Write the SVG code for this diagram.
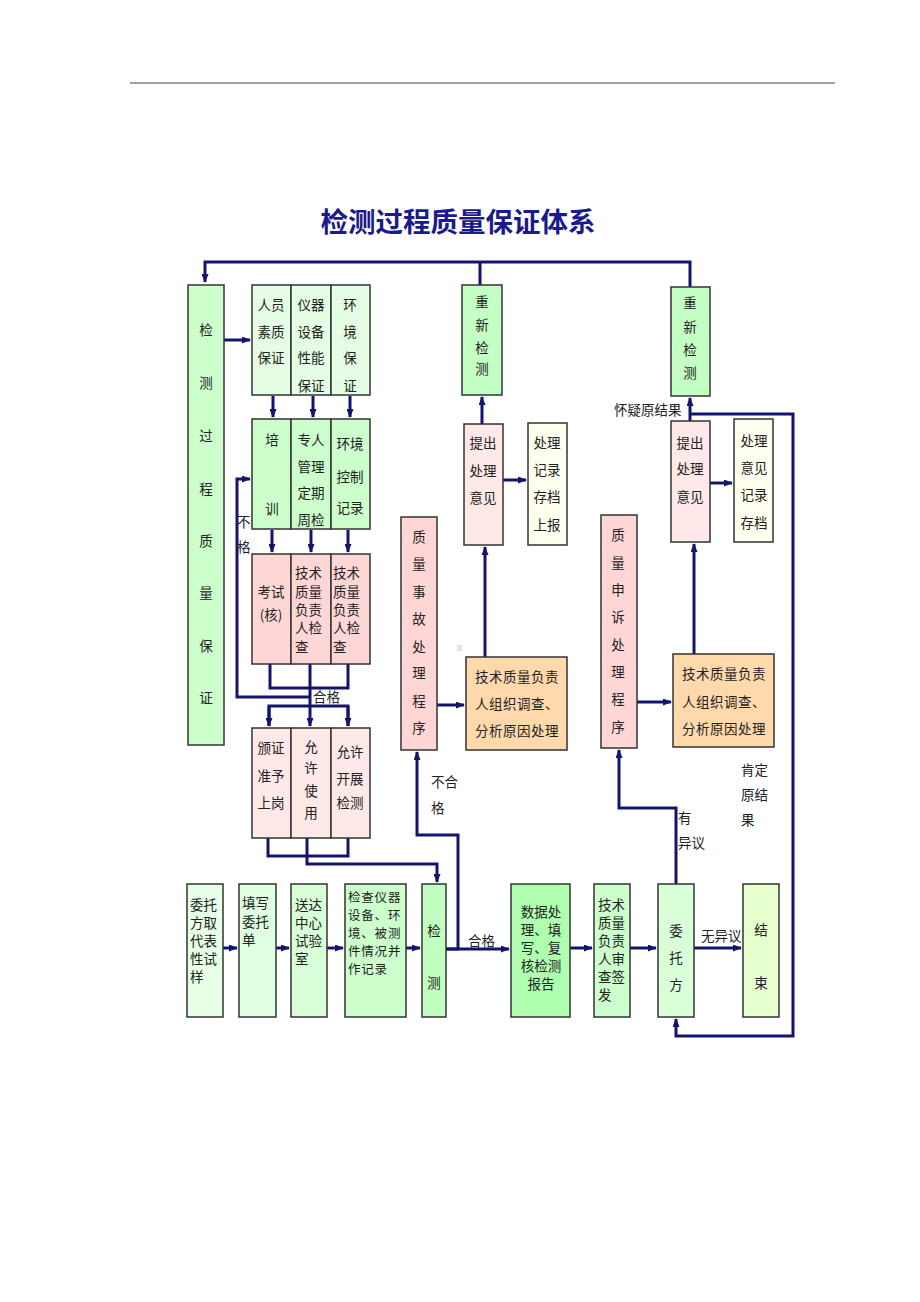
<svg xmlns="http://www.w3.org/2000/svg" width="920" height="1302" viewBox="0 0 920 1302">
<defs>
<marker id="ah" markerUnits="userSpaceOnUse" markerWidth="9" markerHeight="7" refX="8" refY="3.5" orient="auto">
<path d="M0,0 L9,3.5 L0,7 z" fill="#14146e"/>
</marker>
<style>
.t{font-family:"Noto Sans CJK SC","Noto Sans",sans-serif;font-size:13.5px;fill:#222}
.s{font-size:12.5px}
.c{text-anchor:middle}
.b{stroke:#333;stroke-width:1.5}
.ln{fill:none;stroke:#14146e;stroke-width:3}
.ar{fill:none;stroke:#14146e;stroke-width:3;marker-end:url(#ah)}
.title{font-family:"Noto Sans CJK SC","Noto Sans",sans-serif;font-size:27.5px;font-weight:bold;fill:#1a1a8c;text-anchor:middle}
</style>
</defs>
<rect width="920" height="1302" fill="#fff"/>
<line x1="130" y1="83" x2="835" y2="83" stroke="#444" stroke-width="1"/>
<text class="title" x="458" y="232">检测过程质量保证体系</text>

<g id="connectors">
<path class="ar" d="M690,287 V262 H205 V282"/>
<path class="ln" d="M480,262 V285"/>
<path class="ar" d="M224,340 H250"/>
<path class="ar" d="M273,396 V417"/>
<path class="ar" d="M313,396 V417"/>
<path class="ar" d="M350,396 V417"/>
<path class="ar" d="M272,530 V552"/>
<path class="ar" d="M311,530 V552"/>
<path class="ar" d="M348,530 V552"/>
<path class="ln" d="M270,664 V688 H348 V664"/>
<path class="ar" d="M310,664 V726"/>
<path class="ln" d="M269,726 V706 H348 V726"/>
<path class="ar" d="M269,706 V726"/>
<path class="ar" d="M348,706 V726"/>
<path class="ar" d="M310,697 H237 V479 H250"/>
<path class="ln" d="M268,838 V856 H348 V838"/>
<path class="ar" d="M307,838 V864 H437 V882"/>
<path class="ar" d="M446,949 H458 V835 H417 V752"/>
<path class="ar" d="M223,948 H237"/>
<path class="ar" d="M276,948 H289"/>
<path class="ar" d="M327,948 H343"/>
<path class="ar" d="M406,948 H420"/>
<path class="ar" d="M446,949 H509"/>
<path class="ar" d="M570,948 H592"/>
<path class="ar" d="M630,948 H656"/>
<path class="ar" d="M694,948 H741"/>
<path class="ar" d="M676,884 V808 H619 V750"/>
<path class="ar" d="M690,414 H793 V1036 H676 V1019"/>
<path class="ar" d="M690,421 V398"/>
<path class="ar" d="M482,424 V397"/>
<path class="ar" d="M503,480 H526"/>
<path class="ar" d="M710,483 H732"/>
<path class="ar" d="M485,657 V547"/>
<path class="ar" d="M694,654 V544"/>
<path class="ar" d="M437,705 H464"/>
<path class="ar" d="M637,702 H671"/>
</g>

<g id="labels">
<text class="t" x="313" y="702">合格</text>
<text class="t" x="237" y="527">不合</text>
<text class="t" x="237" y="552">格</text>
<text class="t" x="431" y="787">不合</text>
<text class="t" x="431" y="813">格</text>
<text class="t" x="468" y="946">合格</text>
<text class="t" x="701" y="941">无异议</text>
<text class="t" x="614" y="415">怀疑原结果</text>
<text class="t" x="678" y="823">有</text>
<text class="t" x="678" y="848">异议</text>
<text class="t" x="741" y="775">肯定</text>
<text class="t" x="741" y="800">原结</text>
<text class="t" x="741" y="825">果</text>
<rect x="457" y="645" width="5" height="6" fill="#e2e2e2"/>
</g>

<g id="n-main">
<rect class="b" x="188" y="285" width="36" height="460" fill="#ccffcc"/>
<text class="t c" x="206" y="335">检</text>
<text class="t c" x="206" y="388">测</text>
<text class="t c" x="206" y="441">过</text>
<text class="t c" x="206" y="494">程</text>
<text class="t c" x="206" y="546">质</text>
<text class="t c" x="206" y="598">量</text>
<text class="t c" x="206" y="651">保</text>
<text class="t c" x="206" y="703">证</text>
</g>

<g id="n-g1a">
<rect class="b" x="252" y="285" width="39" height="110" fill="#e4fde4"/>
<text class="t c" x="271" y="310">人员</text>
<text class="t c" x="271" y="337">素质</text>
<text class="t c" x="271" y="363">保证</text>
</g>
<g id="n-g1b">
<rect class="b" x="291" y="285" width="40" height="110" fill="#e4fde4"/>
<text class="t c" x="311" y="310">仪器</text>
<text class="t c" x="311" y="337">设备</text>
<text class="t c" x="311" y="363">性能</text>
<text class="t c" x="311" y="391">保证</text>
</g>
<g id="n-g1c">
<rect class="b" x="331" y="285" width="39" height="110" fill="#e4fde4"/>
<text class="t c" x="350" y="310">环</text>
<text class="t c" x="350" y="337">境</text>
<text class="t c" x="350" y="363">保</text>
<text class="t c" x="350" y="391">证</text>
</g>

<g id="n-g2a">
<rect class="b" x="252" y="419" width="39" height="110" fill="#ccffcc"/>
<text class="t c" x="272" y="445">培</text>
<text class="t c" x="272" y="514">训</text>
</g>
<g id="n-g2b">
<rect class="b" x="291" y="419" width="40" height="110" fill="#ccffcc"/>
<text class="t c" x="311" y="445">专人</text>
<text class="t c" x="311" y="472">管理</text>
<text class="t c" x="311" y="498">定期</text>
<text class="t c" x="311" y="525">周检</text>
</g>
<g id="n-g2c">
<rect class="b" x="331" y="419" width="39" height="110" fill="#ccffcc"/>
<text class="t c" x="350" y="449">环境</text>
<text class="t c" x="350" y="482">控制</text>
<text class="t c" x="350" y="513">记录</text>
</g>

<g id="n-g3a">
<rect class="b" x="252" y="554" width="39" height="110" fill="#ffd6d6"/>
<text class="t c" x="271" y="597">考试</text>
<text class="t c" x="271" y="620">(核)</text>
</g>
<g id="n-g3b">
<rect class="b" x="291" y="554" width="40" height="110" fill="#ffd6d6"/>
<text class="t" x="295" y="578">技术</text>
<text class="t" x="295" y="597">质量</text>
<text class="t" x="295" y="615">负责</text>
<text class="t" x="295" y="633">人检</text>
<text class="t" x="295" y="652">查</text>
</g>
<g id="n-g3c">
<rect class="b" x="331" y="554" width="39" height="110" fill="#ffd6d6"/>
<text class="t" x="333" y="578">技术</text>
<text class="t" x="333" y="597">质量</text>
<text class="t" x="333" y="615">负责</text>
<text class="t" x="333" y="633">人检</text>
<text class="t" x="333" y="652">查</text>
</g>

<g id="n-g4a">
<rect class="b" x="252" y="728" width="39" height="110" fill="#ffe8e8"/>
<text class="t c" x="271" y="753">颁证</text>
<text class="t c" x="271" y="781">准予</text>
<text class="t c" x="271" y="808">上岗</text>
</g>
<g id="n-g4b">
<rect class="b" x="291" y="728" width="40" height="110" fill="#ffe8e8"/>
<text class="t c" x="311" y="752">允</text>
<text class="t c" x="311" y="773">许</text>
<text class="t c" x="311" y="796">使</text>
<text class="t c" x="311" y="818">用</text>
</g>
<g id="n-g4c">
<rect class="b" x="331" y="728" width="39" height="110" fill="#ffe8e8"/>
<text class="t c" x="350" y="757">允许</text>
<text class="t c" x="350" y="784">开展</text>
<text class="t c" x="350" y="808">检测</text>
</g>

<g id="n-retest1">
<rect class="b" x="462" y="285" width="40" height="110" fill="#c4ffc4"/>
<text class="t c" x="482" y="307">重</text>
<text class="t c" x="482" y="330">新</text>
<text class="t c" x="482" y="353">检</text>
<text class="t c" x="482" y="374">测</text>
</g>
<g id="n-opinion1">
<rect class="b" x="464" y="424" width="39" height="121" fill="#ffe8e8"/>
<text class="t c" x="483" y="448">提出</text>
<text class="t c" x="483" y="476">处理</text>
<text class="t c" x="483" y="503">意见</text>
</g>
<g id="n-record1">
<rect class="b" x="528" y="423" width="39" height="122" fill="#fffff0"/>
<text class="t c" x="547" y="448">处理</text>
<text class="t c" x="547" y="475">记录</text>
<text class="t c" x="547" y="502">存档</text>
<text class="t c" x="547" y="530">上报</text>
</g>
<g id="n-accident">
<rect class="b" x="401" y="517" width="36" height="233" fill="#ffd6d6"/>
<text class="t c" x="419" y="542">质</text>
<text class="t c" x="419" y="569">量</text>
<text class="t c" x="419" y="597">事</text>
<text class="t c" x="419" y="624">故</text>
<text class="t c" x="419" y="652">处</text>
<text class="t c" x="419" y="678">理</text>
<text class="t c" x="419" y="706">程</text>
<text class="t c" x="419" y="733">序</text>
</g>
<g id="n-invest1">
<rect class="b" x="466" y="657" width="101" height="93" fill="#ffd8ac"/>
<text class="t" x="475" y="682" letter-spacing="0.5">技术质量负责</text>
<text class="t" x="475" y="709" letter-spacing="0.5">人组织调查、</text>
<text class="t" x="475" y="736" letter-spacing="0.5">分析原因处理</text>
</g>

<g id="n-retest2">
<rect class="b" x="671" y="287" width="39" height="109" fill="#c4ffc4"/>
<text class="t c" x="690" y="308">重</text>
<text class="t c" x="690" y="332">新</text>
<text class="t c" x="690" y="355">检</text>
<text class="t c" x="690" y="378">测</text>
</g>
<g id="n-opinion2">
<rect class="b" x="671" y="421" width="39" height="121" fill="#ffe8e8"/>
<text class="t c" x="690" y="448">提出</text>
<text class="t c" x="690" y="474">处理</text>
<text class="t c" x="690" y="502">意见</text>
</g>
<g id="n-record2">
<rect class="b" x="734" y="419" width="39" height="123" fill="#fffff0"/>
<text class="t c" x="754" y="446">处理</text>
<text class="t c" x="754" y="473">意见</text>
<text class="t c" x="754" y="500">记录</text>
<text class="t c" x="754" y="528">存档</text>
</g>
<g id="n-complaint">
<rect class="b" x="601" y="515" width="36" height="233" fill="#ffd6d6"/>
<text class="t c" x="618" y="540">质</text>
<text class="t c" x="618" y="568">量</text>
<text class="t c" x="618" y="595">申</text>
<text class="t c" x="618" y="622">诉</text>
<text class="t c" x="618" y="650">处</text>
<text class="t c" x="618" y="677">理</text>
<text class="t c" x="618" y="704">程</text>
<text class="t c" x="618" y="732">序</text>
</g>
<g id="n-invest2">
<rect class="b" x="673" y="654" width="101" height="93" fill="#ffd8ac"/>
<text class="t" x="682" y="679" letter-spacing="0.5">技术质量负责</text>
<text class="t" x="682" y="707" letter-spacing="0.5">人组织调查、</text>
<text class="t" x="682" y="734" letter-spacing="0.5">分析原因处理</text>
</g>

<g id="n-sample">
<rect class="b" x="187" y="884" width="36" height="133" fill="#e6ffe6"/>
<text class="t" x="190" y="910">委托</text>
<text class="t" x="190" y="928">方取</text>
<text class="t" x="190" y="946">代表</text>
<text class="t" x="190" y="964">性试</text>
<text class="t" x="190" y="982">样</text>
</g>
<g id="n-form">
<rect class="b" x="239" y="884" width="37" height="133" fill="#e0ffe0"/>
<text class="t" x="242" y="908">填写</text>
<text class="t" x="242" y="927">委托</text>
<text class="t" x="242" y="945">单</text>
</g>
<g id="n-deliver">
<rect class="b" x="291" y="884" width="36" height="133" fill="#d8ffd8"/>
<text class="t" x="295" y="910">送达</text>
<text class="t" x="295" y="928">中心</text>
<text class="t" x="295" y="946">试验</text>
<text class="t" x="295" y="964">室</text>
</g>
<g id="n-check">
<rect class="b" x="345" y="884" width="61" height="133" fill="#ccffcc"/>
<text class="t s" x="348" y="902" letter-spacing="0.8">检查仪器</text>
<text class="t s" x="348" y="920" letter-spacing="0.8">设备、环</text>
<text class="t s" x="348" y="938" letter-spacing="0.8">境、被测</text>
<text class="t s" x="348" y="956" letter-spacing="0.8">件情况并</text>
<text class="t s" x="348" y="974" letter-spacing="0.8">作记录</text>
</g>
<g id="n-test">
<rect class="b" x="422" y="884" width="24" height="133" fill="#c0ffc0"/>
<text class="t c" x="434" y="936">检</text>
<text class="t c" x="434" y="988">测</text>
</g>
<g id="n-data">
<rect class="b" x="511" y="884" width="59" height="133" fill="#b0ffb0"/>
<text class="t c" x="541" y="917">数据处</text>
<text class="t c" x="541" y="935">理、填</text>
<text class="t c" x="541" y="953">写、复</text>
<text class="t c" x="541" y="971">核检测</text>
<text class="t c" x="541" y="989">报告</text>
</g>
<g id="n-approve">
<rect class="b" x="594" y="884" width="36" height="133" fill="#ccffcc"/>
<text class="t" x="598" y="910">技术</text>
<text class="t" x="598" y="928">质量</text>
<text class="t" x="598" y="946">负责</text>
<text class="t" x="598" y="964">人审</text>
<text class="t" x="598" y="982">查签</text>
<text class="t" x="598" y="1000">发</text>
</g>
<g id="n-client">
<rect class="b" x="658" y="884" width="36" height="133" fill="#d8ffd8"/>
<text class="t c" x="676" y="936">委</text>
<text class="t c" x="676" y="963">托</text>
<text class="t c" x="676" y="990">方</text>
</g>
<g id="n-end">
<rect class="b" x="743" y="884" width="36" height="133" fill="#e6ffcc"/>
<text class="t c" x="761" y="935">结</text>
<text class="t c" x="761" y="988">束</text>
</g>
</svg>
